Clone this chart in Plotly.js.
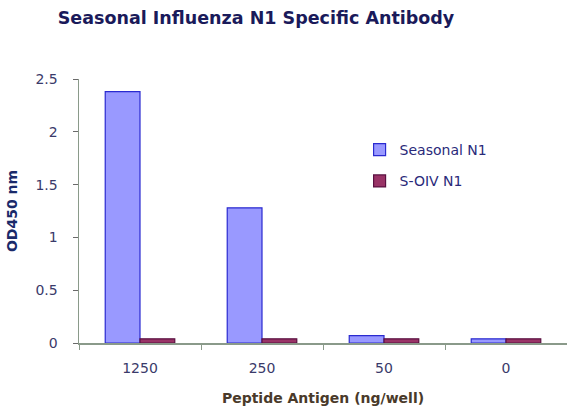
<!DOCTYPE html>
<html>
<head>
<meta charset="utf-8">
<script src="https://cdn.plot.ly/plotly-3.0.1.min.js"></script>
<style>html,body{margin:0;padding:0;background:#fff;}#chart{width:567px;height:412px;}</style>
</head>
<body>
<div id="chart"></div>
<script>
var categories = ["1250", "250", "50", "0"];
var seasonalN1 = [2.38, 1.28, 0.07, 0.04];
var soivN1 = [0.04, 0.04, 0.04, 0.04];
var seriesNames = ["Seasonal N1", "S-OIV N1"];
var yTicks = [0, 0.5, 1, 1.5, 2, 2.5];
var yTickLabels = ["0", "0.5", "1", "1.5", "2", "2.5"];

var traces = [
  {type: "bar", x: categories, y: seasonalN1, name: seriesNames[0], legendgroup: "a",
   marker: {color: "#9999FF", line: {color: "#2a2ad0", width: 1.2}}},
  {type: "bar", x: categories, y: soivN1, name: seriesNames[1], legendgroup: "b",
   marker: {color: "#993366", line: {color: "#5a1040", width: 1.2}}}
];

var layout = {
  width: 567, height: 412,
  margin: {l: 79, r: 0, t: 79, b: 69},
  paper_bgcolor: "#fff", plot_bgcolor: "#fff",
  font: {family: "DejaVu Sans, Liberation Sans, sans-serif", color: "#1a1a4a"},
  title: {text: "<b>Seasonal Influenza N1 Specific Antibody</b>", x: 256/567, xanchor: "center", y: 1 - 18/412, yanchor: "middle",
          font: {size: 17.5, color: "#1a1a5a"}},
  barmode: "group", bargap: 0.43, bargroupgap: 0,
  showlegend: true,
  legend: {x: 326/567, y: 1 - 86/412, xref: "paper", yref: "paper", xanchor: "left", yanchor: "top",
           font: {size: 14, color: "#2a2a7a"}, bgcolor: "rgba(0,0,0,0)", tracegroupgap: 10, itemwidth: 30},
  xaxis: {
    type: "category", showgrid: false, showline: true, linecolor: "#8a9a8a", linewidth: 1.5,
    ticks: "outside", tickson: "boundaries", ticklen: 5, tickcolor: "#8a9a8a",
    ticklabelstandoff: 12,
    tickfont: {size: 14, color: "#3a3a6a"},
    title: {text: "<b>Peptide Antigen (ng/well)</b>", font: {size: 14, color: "#4a3a2a"}, standoff: 18},
    zeroline: false, fixedrange: true
  },
  yaxis: {
    range: [0, 2.5], tickvals: yTicks, ticktext: yTickLabels,
    showgrid: false, showline: true, linecolor: "#8a9a8a", linewidth: 1.5,
    ticks: "outside", ticklen: 5, tickcolor: "#6a6a6a",
    ticklabelstandoff: 12,
    tickfont: {size: 14, color: "#3a3a6a"},
    title: {text: "<b>OD450 nm</b>", font: {size: 14, color: "#1a2a6a"}, standoff: 14},
    zeroline: false, fixedrange: true
  }
};

Plotly.newPlot("chart", traces, layout, {displayModeBar: false, staticPlot: true});
</script>
</body>
</html>
